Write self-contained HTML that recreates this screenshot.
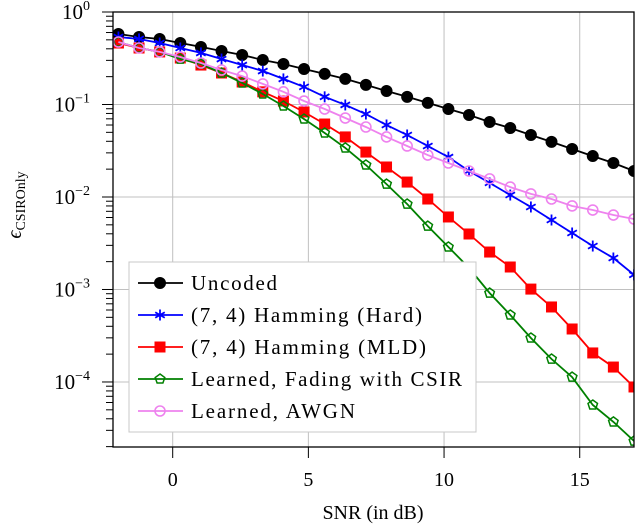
<!DOCTYPE html>
<html><head><meta charset="utf-8"><style>
html,body{margin:0;padding:0;background:#fff;}
svg{display:block;font-family:"Liberation Serif",serif;}
</style></head><body>
<svg id="chart" width="640" height="524" viewBox="0 0 640 524" xmlns="http://www.w3.org/2000/svg"></svg>
<script>
const snr = [];
for (let i = 0; i < 26; i++) snr.push(-2 + i * 0.76);
const uncoded = [0.578,0.537,0.511,0.462,0.419,0.379,0.343,0.303,0.274,0.242,0.214,0.189,0.163,0.140,0.121,0.104,0.0893,0.0769,0.0647,0.0557,0.0468,0.0394,0.0330,0.0277,0.0233,0.0191];
const hammingHard = [0.537,0.511,0.462,0.408,0.361,0.310,0.267,0.230,0.189,0.155,0.121,0.0989,0.0789,0.0600,0.0468,0.0356,0.0270,0.0191,0.0142,0.0105,0.00780,0.00564,0.00408,0.00295,0.00219,0.00144];
const hammingMLD = [0.462,0.408,0.370,0.318,0.267,0.219,0.175,0.137,0.109,0.0830,0.0615,0.0446,0.0306,0.0211,0.0145,0.00951,0.00608,0.00398,0.00254,0.00175,0.00101,0.000647,0.000374,0.000206,0.000145,0.0000883];
const learnedFading = [0.474,0.408,0.370,0.310,0.274,0.219,0.171,0.130,0.0964,0.0697,0.0492,0.0339,0.0222,0.0138,0.00839,0.00485,0.00288,0.00171,0.000916,0.000530,0.000299,0.000177,0.000113,0.0000564,0.0000370,0.0000230];
const learnedAWGN = [0.474,0.408,0.370,0.326,0.281,0.236,0.203,0.167,0.137,0.109,0.0893,0.0714,0.0571,0.0446,0.0356,0.0284,0.0233,0.0191,0.0157,0.0128,0.0108,0.00951,0.00800,0.00723,0.00638,0.00578];
const xTicks = [0,5,10,15];
const yTickExps = [0,-1,-2,-3,-4];

const NS = "http://www.w3.org/2000/svg";
const svg = document.getElementById('chart');
const L = 113, R = 634, T = 12, B = 447;
const xMin = -2.2, xMax = 17;
const yTop = 0, yBot = -4.703;
function X(v){ return L + (v - xMin) / (xMax - xMin) * (R - L); }
function Y(v){ return T + (yTop - Math.log10(v)) / (yTop - yBot) * (B - T); }
function el(tag, attrs, parent){
  const e = document.createElementNS(NS, tag);
  for (const k in attrs) e.setAttribute(k, attrs[k]);
  (parent || svg).appendChild(e);
  return e;
}
const clip = el('clipPath', {id:'pc'});
el('rect', {x:L, y:T, width:R-L, height:B-T}, clip);

const grid = el('g', {stroke:'#c0c0c0', 'stroke-width':1});


xTicks.forEach(t => el('line', {x1:X(t), x2:X(t), y1:T, y2:B}, grid));
yTickExps.forEach(e => el('line', {x1:L, x2:R, y1:Y(Math.pow(10,e)), y2:Y(Math.pow(10,e))}, grid));

const ticks = el('g', {stroke:'#000', 'stroke-width':1});


for (let e = 0; e >= -5; e--) {
  for (let m = 1; m <= 9; m++) {
    const v = m * Math.pow(10, e);
    const y = Y(v);
    if (y < T - 0.5 || y > B + 0.5) continue;
    const len = m === 1 ? 11 : 7;
    el('line', {x1:L - len, x2:L, y1:y, y2:y}, ticks);
  }
}
xTicks.forEach(t => el('line', {x1:X(t), x2:X(t), y1:B, y2:B+11}, ticks));

xTicks.forEach(t => {
  const tx = el('text', {x:X(t), y:486, 'text-anchor':'middle', 'font-size':20, fill:'#000'});
  
  
  tx.textContent = t;
});
yTickExps.forEach(e => {
  const y = Y(Math.pow(10, e));
  const tx = el('text', {x:90, y:y + 7, 'text-anchor':'end', 'font-size':21, fill:'#000'});
  
  
  const a = el('tspan', {}, tx); a.textContent = '10';
  const b = el('tspan', {dy:-9, 'font-size':14}, tx); b.textContent = e === 0 ? '0' : '\u2212' + (-e);
});

const xl = el('text', {x:373, y:519, 'text-anchor':'middle', 'font-size':20, fill:'#000'});


xl.textContent = 'SNR (in dB)';
const yl = el('text', {x:0, y:0, 'text-anchor':'middle', 'font-size':20, fill:'#000', transform:'translate(21,205) rotate(-90)'});


const e1 = el('tspan', {'font-style':'italic'}, yl); e1.textContent = '\u03f5';
const e2 = el('tspan', {dy:4, 'font-size':14}, yl); e2.textContent = 'CSIROnly';

function marker(g, type, cx, cy, color){
  if (type === 'circle') el('circle', {cx, cy, r:5.5, fill:color, stroke:color}, g);
  else if (type === 'ocircle') el('circle', {cx, cy, r:5, fill:'none', stroke:color, 'stroke-width':1.6}, g);
  else if (type === 'square') el('rect', {x:cx-5.5, y:cy-5.5, width:11, height:11, fill:color}, g);
  else if (type === 'star') {
    for (let k = 0; k < 3; k++) {
      const a = Math.PI/2 + k*Math.PI/3;
      el('line', {x1:cx-5.5*Math.cos(a), y1:cy-5.5*Math.sin(a), x2:cx+5.5*Math.cos(a), y2:cy+5.5*Math.sin(a), stroke:color, 'stroke-width':1.8}, g);
    }
  } else if (type === 'pentagon') {
    let pts = [];
    for (let k = 0; k < 5; k++) { const a = -Math.PI/2 + k*2*Math.PI/5; pts.push((cx+5*Math.cos(a)).toFixed(1)+','+(cy+5*Math.sin(a)).toFixed(1)); }
    el('polygon', {points:pts.join(' '), fill:'none', stroke:color, 'stroke-width':1.5}, g);
  }
}
const series = [
  {name:'series-uncoded', data:uncoded, color:'#000000', m:'circle', label:'Uncoded', w:86},
  {name:'series-hamming-hard', data:hammingHard, color:'#0000ff', m:'star', label:'(7, 4) Hamming (Hard)', w:231},
  {name:'series-hamming-mld', data:hammingMLD, color:'#ff0000', m:'square', label:'(7, 4) Hamming (MLD)', w:235},
  {name:'series-learned-fading', data:learnedFading, color:'#008000', m:'pentagon', label:'Learned, Fading with CSIR', w:271},
  {name:'series-learned-awgn', data:learnedAWGN, color:'#ee82ee', m:'ocircle', label:'Learned, AWGN', w:164}
];
series.forEach(s => {
  const g = el('g', {'clip-path':'url(#pc)'});
  
  
  const pts = s.data.map((v,i) => X(snr[i]).toFixed(1)+','+Y(v).toFixed(1)).join(' ');
  el('polyline', {points:pts, fill:'none', stroke:s.color, 'stroke-width':1.8}, g);
  s.data.forEach((v,i) => marker(g, s.m, X(snr[i]), Y(v), s.color));
});

const box = el('rect', {x:L, y:T, width:R-L, height:B-T, fill:'none', stroke:'#000', 'stroke-width':1.3});



const lg = el('g', {});


el('rect', {x:129, y:262, width:347, height:170, fill:'#fff', stroke:'#c8c8c8', 'stroke-width':1}, lg);
series.forEach((s, i) => {
  const y = 283 + i * 32;
  const entry = el('g', {}, lg);
  
  
  el('line', {x1:138, x2:183, y1:y, y2:y, stroke:s.color, 'stroke-width':1.8}, entry);
  marker(entry, s.m, 160, y, s.color);
  const t = el('text', {x:191, y:y + 7, 'font-size':21, fill:'#000', textLength:s.w, lengthAdjust:'spacing'}, entry);
  t.textContent = s.label;
});
</script>
</body></html>
